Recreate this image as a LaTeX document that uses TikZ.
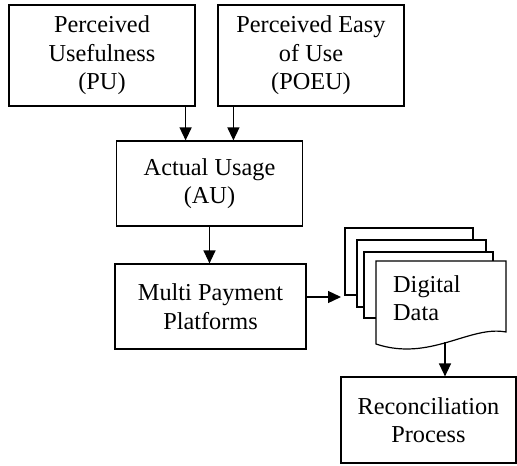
\documentclass[tikz,border=0pt]{standalone}
\usepackage{fontspec}
\setmainfont{Liberation Serif}
\usetikzlibrary{arrows.meta,calc}
\begin{document}
\begin{tikzpicture}[x=1pt,y=-1pt,
  box/.style={draw,line width=1.2pt,rectangle,align=center,inner sep=0pt,
    font=\fontsize{24.3}{28.5}\selectfont},
  arr/.style={line width=1.3pt,-{Triangle[length=13pt,width=12pt]}},
  page/.style={draw,line width=1.2pt,fill=white}]
\useasboundingbox (0,0) rectangle (517,466);
\node[box,minimum width=186pt,minimum height=101pt] (PU) at (102,55.5) {Perceived\\Usefulness\\(PU)};
\node[box,minimum width=186pt,minimum height=101pt] (POEU) at (311,55.5) {Perceived Easy\\of Use\\(POEU)};
\node[box,minimum width=186pt,minimum height=85pt] (AU) at (209.5,183.5) {Actual Usage\\(AU)};
\node[box,minimum width=191pt,minimum height=85pt] (MPP) at (210.5,306.5) {Multi Payment\\Platforms};
\node[box,minimum width=175pt,minimum height=86pt] (REC) at (428.5,420) {Reconciliation\\Process};
% stacked documents
\draw[page] (345,228) rectangle (473,295);
\draw[page] (357,240) rectangle (486,307);
\draw[page] (364,252) rectangle (493,318);
\draw[page] (376,261) -- (506,261) -- (506,332) .. controls (470,325) and (430,362) .. (376,344) -- cycle;
\node[anchor=west,align=left,inner sep=0pt,font=\fontsize{24.3}{28.5}\selectfont] (DD) at (393,298) {Digital\\Data};
\coordinate (ddin) at (341,297);
\coordinate (ddbot) at (445,342);
% connectors
\draw[arr] ($(PU.south east)+(-10,0)$) coordinate (a1) -- (a1 |- AU.north);
\draw[arr] ($(POEU.south west)+(16,0)$) coordinate (a2) -- (a2 |- AU.north);
\draw[arr] (AU.south) -- (AU.south |- MPP.north);
\draw[arr] (MPP.east |- ddin) -- (ddin);
\draw[arr] (ddbot) -- (ddbot |- REC.north);
\end{tikzpicture}
\end{document}
